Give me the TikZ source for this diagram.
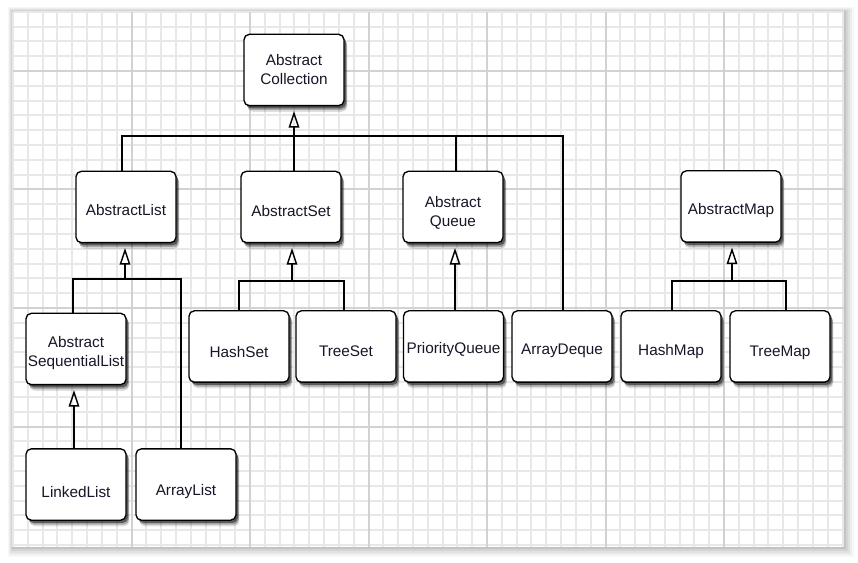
\documentclass[tikz,border=0pt]{standalone}
\usepackage{fontspec}
\setmainfont{Liberation Sans}
\usetikzlibrary{shadows,arrows.meta}
\definecolor{txt}{RGB}{22,22,40}
\definecolor{minorc}{RGB}{232,232,232}
\definecolor{majorc}{RGB}{210,210,210}
\tikzset{
  clsbox/.style={draw=black, line width=1pt, rounded corners=4pt, fill=white,
    minimum width=75pt, minimum height=53.5pt, inner sep=0pt,
    drop shadow={shadow xshift=2.6pt, shadow yshift=-4.6pt, fill=black, opacity=.12},
    drop shadow={shadow xshift=2.2pt, shadow yshift=-3.4pt, fill=black, opacity=.25},
    drop shadow={shadow xshift=1.6pt, shadow yshift=-2.0pt, fill=black, opacity=.45}},
  clstxt/.style={inner sep=0pt, align=center, text=txt, font=\fontsize{11.5}{14.25}\selectfont},
  conn/.style={draw=black, line width=1.3pt},
  inh/.style={conn, -{Triangle[open, length=12.5pt, width=8pt, line width=1.1pt]}, shorten >=3.5pt},
  minorg/.style={draw=minorc, line width=1.5pt},
  majorg/.style={draw=majorc, line width=1.5pt}
}
% #1 name, #2 centre, #3 text drop (pt), #4 text
\newcommand\classbox[4]{%
  \node[clsbox] (#1) at (#2) {};
  \node[clstxt] (#1t) at ([yshift=-#3]#1.center) {#4};
}
\begin{document}
\begin{tikzpicture}[x=0.75pt, y=-0.75pt]
\useasboundingbox (0,0) rectangle (858,563);
% soft shadow around the sheet
\foreach \d/\o in {10/0.03,8/0.04,6/0.05,4/0.06,2/0.08}{
  \fill[black, opacity=\o] ({13-\d*0.5},{11.75-\d*0.5}) rectangle ({843.5+\d},{547+\d});
}
\fill[white] (13,11.75) rectangle (843.5,547);
% grid
\foreach \i in {0,...,56} \draw[minorg] ({13+\i*14.8125},11.75) -- ({13+\i*14.8125},547);
\foreach \i in {0,...,36} \draw[minorg] (13,{11.75+\i*14.8125}) -- (843.5,{11.75+\i*14.8125});
\foreach \i in {1,...,6} \draw[majorg] ({13+\i*118.5},11.75) -- ({13+\i*118.5},547);
\foreach \k in {0,...,3} \draw[majorg] (13,{71+\k*118.5}) -- (843.5,{71+\k*118.5});

% classes
\classbox{AC}{294,70}{0pt}{Abstract\\Collection}
\classbox{AL}{126,207}{2.3pt}{AbstractList}
\classbox{AS}{291,207}{3pt}{AbstractSet}
\classbox{AQ}{453,207}{4.3pt}{Abstract\\Queue}
\classbox{AM}{731,206.5}{3.4pt}{AbstractMap}
\classbox{ASL}{76,349}{3pt}{Abstract\\SequentialList}
\classbox{HS}{239,346.5}{4pt}{HashSet}
\classbox{TS}{346,346.5}{3.8pt}{TreeSet}
\classbox{PQ}{453.5,346.5}{2.6pt}{PriorityQueue}
\classbox{AD}{562,346.5}{3.4pt}{ArrayDeque}
\classbox{HM}{671,346.5}{4pt}{HashMap}
\classbox{TM}{780,346.5}{4.5pt}{TreeMap}
\classbox{LL}{76,484.5}{5.5pt}{LinkedList}
\classbox{ArL}{186,484.5}{5.3pt}{ArrayList}

% bus coordinates
\coordinate (b0) at (294,136);
\coordinate (b1) at (122,136);
\coordinate (b3) at (456,136);
\coordinate (b4) at (563,136);
\coordinate (l0) at (125,279);
\coordinate (l1) at (73,279);
\coordinate (l2) at (181,279);
\coordinate (s0) at (292,281);
\coordinate (s1) at (239,281);
\coordinate (s2) at (344,281);
\coordinate (m0) at (732,281);
\coordinate (m1) at (672,281);
\coordinate (m2) at (786,281);
\coordinate (q0) at (455,300);
\coordinate (a0) at (74,420);

% AbstractCollection hierarchy
\draw[inh] (b0) -- (b0 |- AC.south);
\draw[conn] (b1 |- AL.north) -- (b1) -- (b4) -- (b4 |- AD.north);
\draw[conn] (b0 |- AS.north) -- (b0);
\draw[conn] (b3 |- AQ.north) -- (b3);

% AbstractList
\draw[inh] (l0) -- (l0 |- AL.south);
\draw[conn] (l1 |- ASL.north) -- (l1) -- (l2) -- (l2 |- ArL.north);

% AbstractSet
\draw[inh] (s0) -- (s0 |- AS.south);
\draw[conn] (s1 |- HS.north) -- (s1) -- (s2) -- (s2 |- TS.north);

% AbstractQueue
\draw[inh] (q0 |- PQ.north) -- (q0 |- AQ.south);

% AbstractMap
\draw[inh] (m0) -- (m0 |- AM.south);
\draw[conn] (m1 |- HM.north) -- (m1) -- (m2) -- (m2 |- TM.north);

% AbstractSequentialList
\draw[inh] (a0 |- LL.north) -- (a0 |- ASL.south);
\end{tikzpicture}
\end{document}
